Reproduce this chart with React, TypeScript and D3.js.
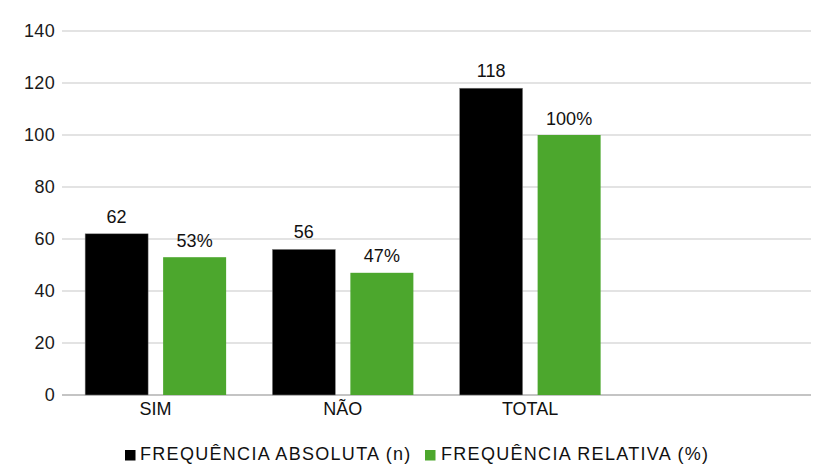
import React from "react";
import * as d3 from "d3";

const categories = ["SIM", "NÃO", "TOTAL", ""];
const absolute = [62, 56, 118, null];
const relative = [53, 47, 100, null];
const relativeLabels = ["53%", "47%", "100%", ""];
const yTicks = [0, 20, 40, 60, 80, 100, 120, 140];
const seriesNames = ["FREQUÊNCIA ABSOLUTA (n)", "FREQUÊNCIA RELATIVA (%)"];
const colors = ["#000000", "#4ca72d"];

export default function App() {
  const W = 821, H = 465;
  const keys = categories.map((c, i) => c || "_" + i);
  const x = d3.scaleBand<string>().domain(keys).range([62, 811]).paddingInner(0).paddingOuter(0);
  const y = d3.scaleLinear().domain([0, 140]).range([395, 31]);
  const bw = 63, gap = 15;
  const font = "Liberation Sans, Arial, sans-serif";
  return (
    <svg width={W} height={H} style={{ position: "absolute", left: 0, top: 0 }}>
      <rect width={W} height={H} fill="#fff" />
      {yTicks.map((t) => (
        <g key={t}>
          <line x1={62} x2={811} y1={y(t)} y2={y(t)} stroke={t === 0 ? "#b0b0b0" : "#c8c8c8"} strokeWidth={t === 0 ? 1.5 : 1.2} />
          <text x={55} y={y(t)} dy="0.35em" textAnchor="end" fontFamily={font} fontSize={18} letterSpacing={0.3} fill="#1a1a1a">{t}</text>
        </g>
      ))}
      {keys.map((k, i) => {
        const cx = (x(k) as number) + x.bandwidth() / 2;
        const x0 = cx - gap / 2 - bw;
        const x1 = cx + gap / 2;
        return (
          <g key={k}>
            {absolute[i] != null && (
              <>
                <rect x={x0} y={y(absolute[i] as number)} width={bw} height={y(0) - y(absolute[i] as number)} fill={colors[0]} stroke="#888" strokeWidth={0.5} />
                <text x={x0 + bw / 2} y={y(absolute[i] as number) - 11} textAnchor="middle" fontFamily={font} fontSize={18} fill="#111">{absolute[i]}</text>
              </>
            )}
            {relative[i] != null && (
              <>
                <rect x={x1} y={y(relative[i] as number)} width={bw} height={y(0) - y(relative[i] as number)} fill={colors[1]} />
                <text x={x1 + bw / 2} y={y(relative[i] as number) - 10.5} textAnchor="middle" fontFamily={font} fontSize={18} fill="#111">{relativeLabels[i]}</text>
              </>
            )}
            <text x={cx} y={415} textAnchor="middle" fontFamily={font} fontSize={18} fill="#111">{categories[i]}</text>
          </g>
        );
      })}
      <g>
        <rect x={125} y={450} width={10.5} height={10.5} fill={colors[0]} />
        <text x={140} y={459.5} fontFamily={font} fontSize={18} letterSpacing={1.3} fill="#111">{seriesNames[0]}</text>
        <rect x={425} y={450} width={10.5} height={10.5} fill={colors[1]} />
        <text x={441} y={459.5} fontFamily={font} fontSize={18} letterSpacing={1.3} fill="#111">{seriesNames[1]}</text>
      </g>
    </svg>
  );
}
